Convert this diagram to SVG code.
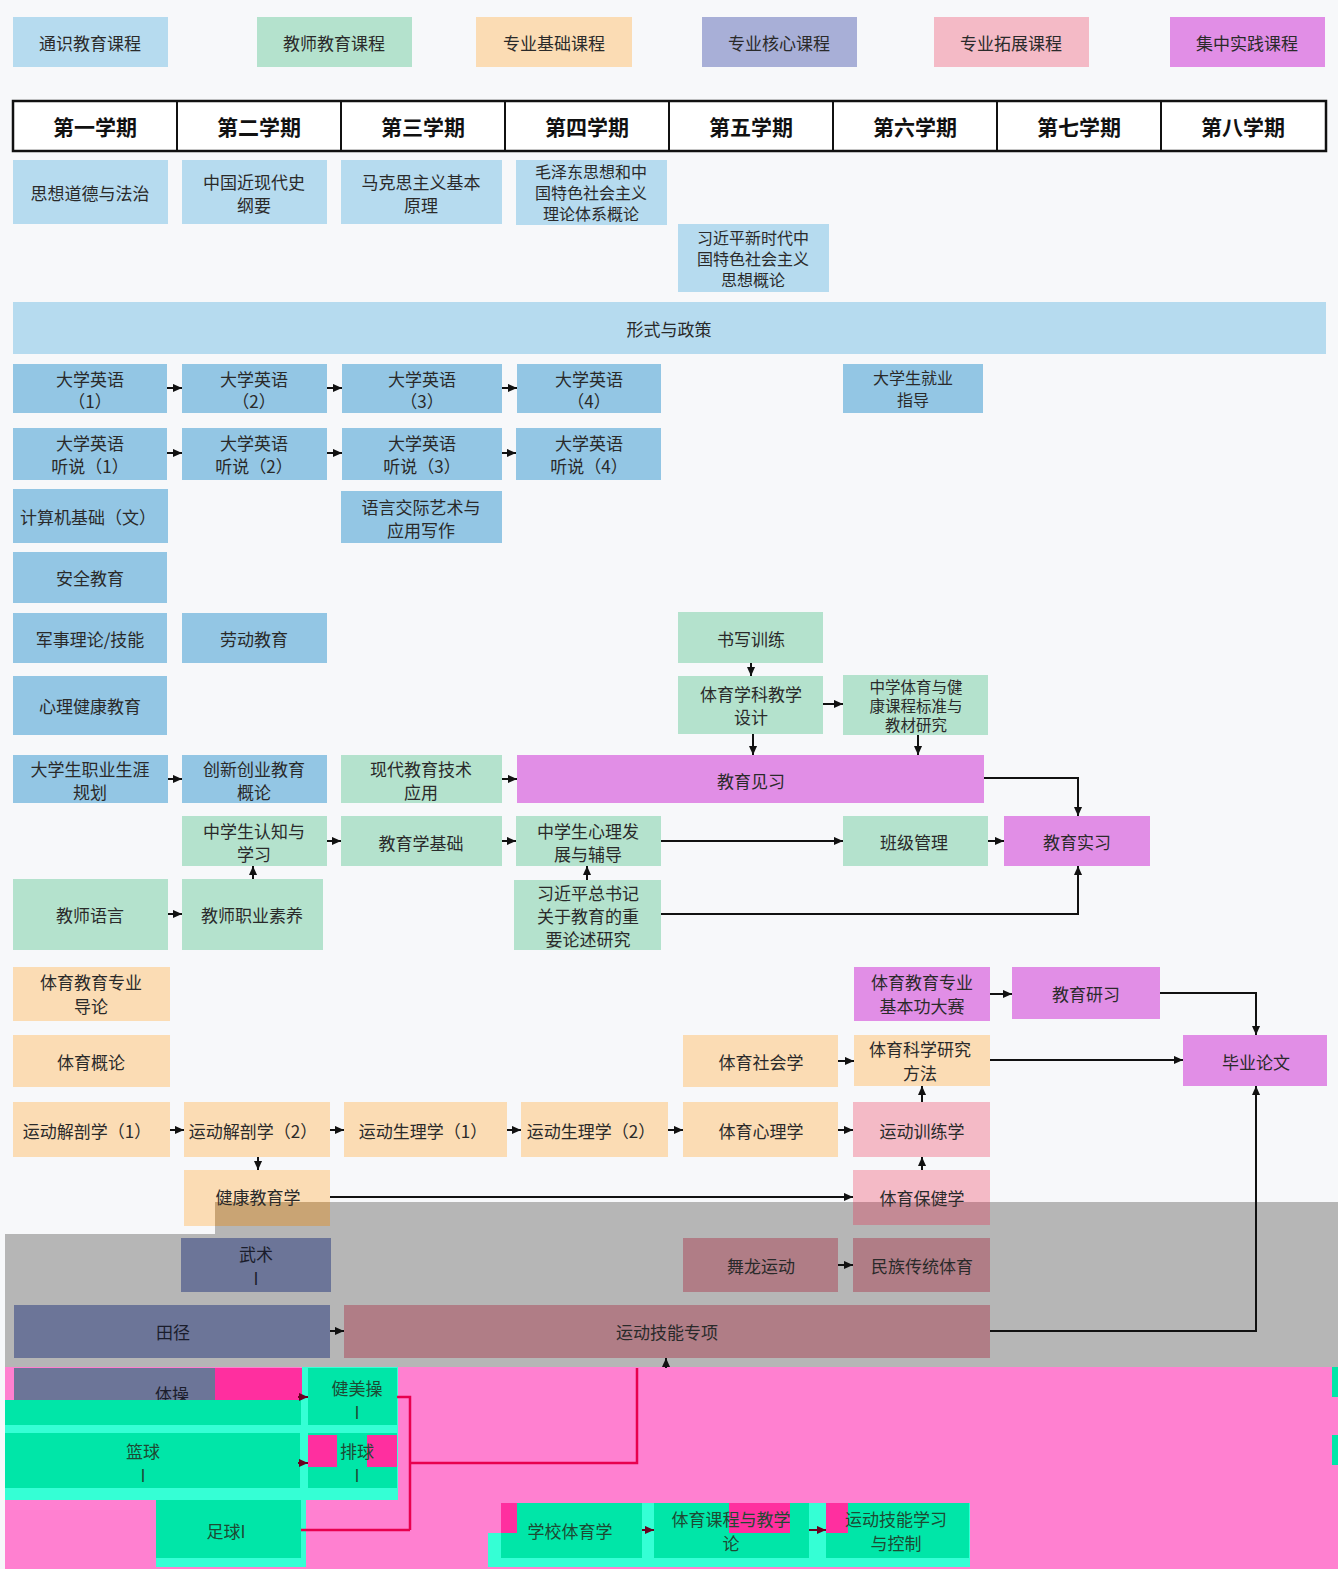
<svg xmlns="http://www.w3.org/2000/svg" width="1338" height="1569" viewBox="0 0 1338 1569">
<defs>
<marker id="ah" viewBox="0 0 10 10" refX="10" refY="5" markerWidth="9" markerHeight="9" markerUnits="userSpaceOnUse" orient="auto"><path d="M0,0.5 L10,5 L0,9.5 z" fill="#111"/></marker>
<marker id="ahr" viewBox="0 0 10 10" refX="10" refY="5" markerWidth="9" markerHeight="9" markerUnits="userSpaceOnUse" orient="auto"><path d="M0,0.5 L10,5 L0,9.5 z" fill="#6a0020"/></marker>
<style>
text{font-family:"Noto Sans CJK SC","Noto Sans",sans-serif;font-size:17px;fill:#2a2a2a;text-anchor:middle;dominant-baseline:central}
text.s{font-size:16px}
.hd{font-size:21px;font-weight:bold;fill:#111}
.g text,text.g{fill:#1d4a33}
.sl text{fill:#1b1d2c}
.b1{fill:#b6dbef}.b2{fill:#93c6e4}.gr{fill:#b4e2cd}.or{fill:#fbdcb4}.lv{fill:#a8afd7}.pk{fill:#f4bac6}.vi{fill:#e18ee6}
.slate{fill:#6c7598}.rose{fill:#b07d86}.cy{fill:#00e6a8}.cy2{fill:#35ffd5}.hot{fill:#ff2f9f}
.c{fill:none;stroke:#111;stroke-width:2;marker-end:url(#ah)}
.r{fill:none;stroke:#e8004e;stroke-width:2.5}
</style>
</defs>
<rect width="1338" height="1569" fill="#f7f8fa"/>

<g id="legend">
<g id="lg1"><rect class="b1" x="13" y="17" width="155" height="50"/><text x="90" y="42">通识教育课程</text></g>
<g id="lg2"><rect class="gr" x="257" y="17" width="155" height="50"/><text x="334" y="42">教师教育课程</text></g>
<g id="lg3"><rect class="or" x="476" y="17" width="156" height="50"/><text x="554" y="42">专业基础课程</text></g>
<g id="lg4"><rect class="lv" x="702" y="17" width="155" height="50"/><text x="779" y="42">专业核心课程</text></g>
<g id="lg5"><rect class="pk" x="934" y="17" width="155" height="50"/><text x="1011" y="42">专业拓展课程</text></g>
<g id="lg6"><rect class="vi" x="1170" y="17" width="155" height="50"/><text x="1247" y="42">集中实践课程</text></g>
</g>

<g id="header">
<rect x="13" y="101" width="1313" height="50" fill="#fff" stroke="#111" stroke-width="2.5"/>
<path d="M177,101V151M341,101V151M505,101V151M669,101V151M833,101V151M997,101V151M1161,101V151" stroke="#111" stroke-width="2"/>
<text class="hd" x="95" y="126">第一学期</text>
<text class="hd" x="259" y="126">第二学期</text>
<text class="hd" x="423" y="126">第三学期</text>
<text class="hd" x="587" y="126">第四学期</text>
<text class="hd" x="751" y="126">第五学期</text>
<text class="hd" x="915" y="126">第六学期</text>
<text class="hd" x="1079" y="126">第七学期</text>
<text class="hd" x="1243" y="126">第八学期</text>
</g>

<path d="M5,1234H215V1202H1338V1367H5Z" fill="#b6b6b6"/>
<rect x="5" y="1367" width="1333" height="202" fill="#ff80d0"/>

<g id="n1"><rect class="b1" x="13" y="160" width="155" height="64"/><text x="90" y="192">思想道德与法治</text></g>
<g id="n2"><rect class="b1" x="182" y="160" width="145" height="64"/><text x="254" y="181">中国近现代史</text><text x="254" y="204">纲要</text></g>
<g id="n3"><rect class="b1" x="341" y="160" width="161" height="64"/><text x="421" y="181">马克思主义基本</text><text x="421" y="204">原理</text></g>
<g id="n4"><rect class="b1" x="516" y="160" width="151" height="65"/><text class="s" x="591" y="171">毛泽东思想和中</text><text class="s" x="591" y="192">国特色社会主义</text><text class="s" x="591" y="213">理论体系概论</text></g>
<g id="n5"><rect class="b1" x="678" y="224" width="151" height="68"/><text class="s" x="753" y="237">习近平新时代中</text><text class="s" x="753" y="258">国特色社会主义</text><text class="s" x="753" y="279">思想概论</text></g>
<g id="n6"><rect class="b1" x="13" y="302" width="1313" height="52"/><text x="669" y="328">形式与政策</text></g>

<g id="n7"><rect class="b2" x="13" y="364" width="154" height="49"/><text x="90" y="378">大学英语</text><text x="90" y="400">（1）</text></g>
<g id="n8"><rect class="b2" x="182" y="364" width="145" height="49"/><text x="254" y="378">大学英语</text><text x="254" y="400">（2）</text></g>
<g id="n9"><rect class="b2" x="342" y="364" width="160" height="49"/><text x="422" y="378">大学英语</text><text x="422" y="400">（3）</text></g>
<g id="n10"><rect class="b2" x="517" y="364" width="144" height="49"/><text x="589" y="378">大学英语</text><text x="589" y="400">（4）</text></g>
<g id="n11"><rect class="b2" x="843" y="364" width="140" height="49"/><text class="s" x="913" y="377">大学生就业</text><text class="s" x="913" y="399">指导</text></g>

<g id="n12"><rect class="b2" x="13" y="428" width="154" height="52"/><text x="90" y="442">大学英语</text><text x="90" y="465">听说（1）</text></g>
<g id="n13"><rect class="b2" x="182" y="428" width="145" height="52"/><text x="254" y="442">大学英语</text><text x="254" y="465">听说（2）</text></g>
<g id="n14"><rect class="b2" x="342" y="428" width="160" height="52"/><text x="422" y="442">大学英语</text><text x="422" y="465">听说（3）</text></g>
<g id="n15"><rect class="b2" x="516" y="428" width="145" height="52"/><text x="589" y="442">大学英语</text><text x="589" y="465">听说（4）</text></g>

<g id="n16"><rect class="b2" x="13" y="489" width="155" height="54"/><text x="88" y="516">计算机基础（文）</text></g>
<g id="n17"><rect class="b2" x="341" y="491" width="161" height="52"/><text x="421" y="506">语言交际艺术与</text><text x="421" y="529">应用写作</text></g>
<g id="n18"><rect class="b2" x="13" y="552" width="154" height="51"/><text x="90" y="577">安全教育</text></g>
<g id="n19"><rect class="b2" x="13" y="613" width="154" height="50"/><text x="90" y="638">军事理论/技能</text></g>
<g id="n20"><rect class="b2" x="182" y="613" width="145" height="50"/><text x="254" y="638">劳动教育</text></g>
<g id="n21"><rect class="gr" x="678" y="612" width="145" height="51"/><text x="751" y="638">书写训练</text></g>
<g id="n22"><rect class="b2" x="13" y="676" width="154" height="59"/><text x="90" y="705">心理健康教育</text></g>
<g id="n23"><rect class="gr" x="678" y="676" width="145" height="58"/><text x="751" y="693">体育学科教学</text><text x="751" y="716">设计</text></g>
<g id="n24"><rect class="gr" x="843" y="675" width="145" height="60"/><text class="s" x="916" y="686" style="font-size:15.5px">中学体育与健</text><text class="s" x="916" y="705" style="font-size:15.5px">康课程标准与</text><text class="s" x="916" y="724" style="font-size:15.5px">教材研究</text></g>

<g id="n25"><rect class="b2" x="13" y="755" width="155" height="48"/><text x="90" y="768">大学生职业生涯</text><text x="90" y="791">规划</text></g>
<g id="n26"><rect class="b2" x="182" y="755" width="145" height="48"/><text x="254" y="768">创新创业教育</text><text x="254" y="791">概论</text></g>
<g id="n27"><rect class="gr" x="341" y="755" width="161" height="48"/><text x="421" y="768">现代教育技术</text><text x="421" y="791">应用</text></g>
<g id="n28"><rect class="vi" x="517" y="755" width="467" height="48"/><text x="751" y="780">教育见习</text></g>

<g id="n29"><rect class="gr" x="182" y="816" width="145" height="50"/><text x="254" y="830">中学生认知与</text><text x="254" y="853">学习</text></g>
<g id="n30"><rect class="gr" x="341" y="816" width="161" height="50"/><text x="421" y="842">教育学基础</text></g>
<g id="n31"><rect class="gr" x="516" y="816" width="145" height="50"/><text x="588" y="830">中学生心理发</text><text x="588" y="853">展与辅导</text></g>
<g id="n32"><rect class="gr" x="843" y="816" width="145" height="50"/><text x="914" y="841">班级管理</text></g>
<g id="n33"><rect class="vi" x="1004" y="816" width="146" height="50"/><text x="1077" y="841">教育实习</text></g>

<g id="n34"><rect class="gr" x="13" y="879" width="155" height="71"/><text x="90" y="914">教师语言</text></g>
<g id="n35"><rect class="gr" x="182" y="879" width="141" height="71"/><text x="252" y="914">教师职业素养</text></g>
<g id="n36"><rect class="gr" x="514" y="880" width="147" height="70"/><text x="588" y="892">习近平总书记</text><text x="588" y="915">关于教育的重</text><text x="588" y="938">要论述研究</text></g>

<g id="n37"><rect class="or" x="13" y="967" width="157" height="54"/><text x="91" y="981">体育教育专业</text><text x="91" y="1005">导论</text></g>
<g id="n38"><rect class="vi" x="854" y="967" width="136" height="54"/><text x="922" y="981">体育教育专业</text><text x="922" y="1005">基本功大赛</text></g>
<g id="n39"><rect class="vi" x="1012" y="967" width="148" height="52"/><text x="1086" y="993">教育研习</text></g>

<g id="n40"><rect class="or" x="13" y="1035" width="157" height="52"/><text x="91" y="1061">体育概论</text></g>
<g id="n41"><rect class="or" x="683" y="1035" width="155" height="52"/><text x="761" y="1061">体育社会学</text></g>
<g id="n42"><rect class="or" x="854" y="1035" width="136" height="51"/><text x="920" y="1048">体育科学研究</text><text x="920" y="1072">方法</text></g>
<g id="n43"><rect class="vi" x="1183" y="1035" width="144" height="51"/><text x="1256" y="1061">毕业论文</text></g>

<g id="n44"><rect class="or" x="13" y="1102" width="157" height="55"/><text x="87" y="1130">运动解剖学（1）</text></g>
<g id="n45"><rect class="or" x="184" y="1102" width="146" height="55"/><text x="253" y="1130">运动解剖学（2）</text></g>
<g id="n46"><rect class="or" x="344" y="1102" width="163" height="55"/><text x="423" y="1130">运动生理学（1）</text></g>
<g id="n47"><rect class="or" x="521" y="1102" width="147" height="55"/><text x="591" y="1130">运动生理学（2）</text></g>
<g id="n48"><rect class="or" x="683" y="1102" width="155" height="55"/><text x="761" y="1130">体育心理学</text></g>
<g id="n49"><rect class="pk" x="853" y="1102" width="137" height="55"/><text x="922" y="1130">运动训练学</text></g>

<g id="n50"><rect class="or" x="184" y="1170" width="146" height="56"/><rect x="215" y="1202" width="115" height="24" fill="#c9a474"/><text x="258" y="1196">健康教育学</text></g>
<g id="n51"><rect class="pk" x="853" y="1170" width="137" height="55"/><rect x="853" y="1202" width="137" height="23" fill="#c48a95"/><text x="922" y="1197">体育保健学</text></g>

<g id="n52" class="sl"><rect class="slate" x="181" y="1238" width="150" height="54"/><text x="256" y="1253">武术</text><text x="256" y="1277">I</text></g>
<g id="n53"><rect class="rose" x="683" y="1238" width="155" height="54"/><text x="761" y="1265">舞龙运动</text></g>
<g id="n54"><rect class="rose" x="853" y="1238" width="137" height="54"/><text x="922" y="1265">民族传统体育</text></g>
<g id="n55" class="sl"><rect class="slate" x="14" y="1305" width="316" height="53"/><text x="173" y="1331">田径</text></g>
<g id="n56"><rect class="rose" x="344" y="1305" width="646" height="53"/><text x="667" y="1331">运动技能专项</text></g>

<g id="n57" class="sl"><rect class="slate" x="14" y="1368" width="201" height="34"/><rect class="hot" x="215" y="1368" width="87" height="32"/><text x="172" y="1393">体操</text></g>

<g id="glitch">
<rect class="cy2" x="5" y="1400" width="393" height="100"/>
<rect class="cy2" x="302" y="1367" width="96" height="33"/>
<rect class="cy" x="5" y="1400" width="296" height="25"/>
<rect class="cy2" x="156" y="1500" width="150" height="67"/>
<rect class="cy2" x="488" y="1503" width="482" height="64"/>
<rect fill="#ff80d0" x="488" y="1503" width="13" height="30"/>
<rect class="cy" x="1332" y="1367" width="6" height="30"/>
<rect class="cy" x="1332" y="1435" width="6" height="30"/>
</g>

<g id="n58" class="g"><rect class="cy" x="308" y="1368" width="89" height="57"/><text x="357" y="1387">健美操</text><text x="357" y="1411">I</text></g>
<g id="n59" class="g"><rect class="cy" x="5" y="1433" width="295" height="55"/><text x="143" y="1450">篮球</text><text x="143" y="1474">I</text></g>
<g id="n60" class="g"><rect class="cy" x="308" y="1433" width="89" height="55"/><rect class="hot" x="308" y="1435" width="29" height="32"/><rect class="hot" x="367" y="1435" width="30" height="32"/><text x="357" y="1450">排球</text><text x="357" y="1474">I</text></g>
<g id="n61" class="g"><rect class="cy" x="156" y="1500" width="145" height="58"/><text x="226" y="1530">足球I</text></g>
<g id="n62" class="g"><rect class="cy" x="501" y="1503" width="141" height="55"/><rect class="hot" x="501" y="1503" width="16" height="30"/><text x="570" y="1530">学校体育学</text></g>
<g id="n63" class="g"><rect class="cy" x="654" y="1503" width="155" height="55"/><rect class="hot" x="729" y="1503" width="61" height="30"/><text x="731" y="1518">体育课程与教学</text><text x="731" y="1542">论</text></g>
<g id="n64" class="g"><rect class="cy" x="826" y="1503" width="143" height="55"/><rect class="hot" x="826" y="1503" width="22" height="30"/><text x="896" y="1518">运动技能学习</text><text x="896" y="1542">与控制</text></g>

<g id="connectors">
<path class="c" d="M167,388H182"/><path class="c" d="M327,388H342"/><path class="c" d="M502,388H517"/>
<path class="c" d="M167,453H182"/><path class="c" d="M327,453H342"/><path class="c" d="M502,453H516"/>
<path class="c" d="M751,663V676"/>
<path class="c" d="M823,704H843"/>
<path class="c" d="M753,734V755"/>
<path class="c" d="M918,735V755"/>
<path class="c" d="M168,779H182"/>
<path class="c" d="M502,779H517"/>
<path class="c" d="M984,778H1078V816"/>
<path class="c" d="M327,841H341"/>
<path class="c" d="M502,841H516"/>
<path class="c" d="M661,841H843"/>
<path class="c" d="M988,841H1004"/>
<path class="c" d="M253,879V866"/>
<path class="c" d="M168,914H182"/>
<path class="c" d="M587,880V866"/>
<path class="c" d="M661,914H1078V866"/>
<path class="c" d="M990,994H1012"/>
<path class="c" d="M1160,993H1256V1035"/>
<path class="c" d="M838,1061H854"/>
<path class="c" d="M990,1060H1183"/>
<path class="c" d="M170,1130H184"/><path class="c" d="M330,1130H344"/><path class="c" d="M507,1130H521"/><path class="c" d="M668,1130H683"/><path class="c" d="M838,1130H853"/>
<path class="c" d="M922,1102V1086"/>
<path class="c" d="M258,1157V1170"/>
<path class="c" d="M330,1197H853"/>
<path class="c" d="M922,1170V1157"/>
<path class="c" d="M838,1265H853"/>
<path class="c" d="M330,1331H344"/>
<path class="c" d="M990,1331H1256V1086"/>
<path class="c" d="M666,1368V1358"/>
<path class="r" d="M397,1397H410V1530M301,1530H410M410,1463H637V1368"/>
<path class="c" d="M298,1397H308" style="marker-end:url(#ahr);stroke:#6a0020"/>
<path class="c" d="M298,1463H308" style="marker-end:url(#ahr);stroke:#6a0020"/>
<path class="c" d="M642,1530H654" style="marker-end:url(#ahr);stroke:#6a0020"/>
<path class="c" d="M809,1530H826" style="marker-end:url(#ahr);stroke:#6a0020"/>
</g>
</svg>
